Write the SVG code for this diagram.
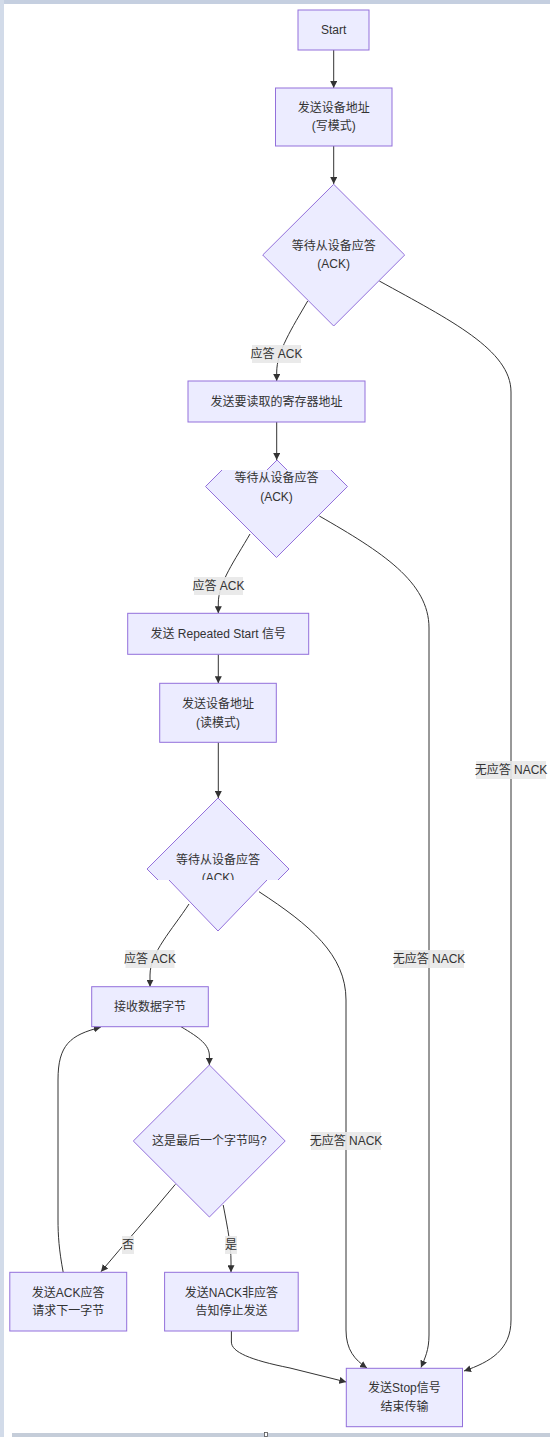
<svg xmlns="http://www.w3.org/2000/svg" width="550" height="1437" viewBox="0 0 550 1437">
<defs>
<style>
.n{fill:#ECECFF;stroke:#9370DB;stroke-width:1}
.nf{fill:#ECECFF;stroke:none}
.ns{fill:none;stroke:#9370DB;stroke-width:1}
.t{font-family:"Liberation Sans","Noto Sans CJK SC",sans-serif;font-size:12px;fill:#333;text-anchor:middle;dominant-baseline:central}
.e{fill:none;stroke:#333;stroke-width:1}
.lb{fill:#e8e8e8;opacity:0.9}
</style>
<marker id="ah" viewBox="0 0 10 10" refX="10" refY="5" markerWidth="7" markerHeight="7" markerUnits="userSpaceOnUse" orient="auto">
<path d="M0,0 L10,5 L0,10 z" fill="#333"/>
</marker>
<clipPath id="c3"><rect x="140" y="840" width="160" height="40"/></clipPath>
</defs>
<rect x="0" y="0" width="550" height="1437" fill="#ffffff"/>
<g id="frame">
<rect x="0" y="0" width="550" height="4" fill="#c5cfe0"/>
<rect x="0" y="0" width="4" height="1437" fill="#d2dbe9"/>
<rect x="12" y="1433" width="538" height="4" fill="#c5cdd9"/>
<rect x="264.5" y="1432.5" width="3" height="4" fill="#fff" stroke="#555" stroke-width="0.8"/>
</g>
<g id="connectors">
<path class="e" d="M333.7,50 L333.7,88" marker-end="url(#ah)"/>
<path class="e" d="M333.7,146 L333.7,184" marker-end="url(#ah)"/>
<path class="e" d="M307.7,301 C292,328 276.7,352 276.7,372 L276.7,381" marker-end="url(#ah)"/>
<path class="e" d="M379.3,281 C450,320 511,350 511,392 L511,1320 C511,1350 490,1362 464,1371" marker-end="url(#ah)"/>
<path class="e" d="M276.7,422 L276.7,460" marker-end="url(#ah)"/>
<path class="e" d="M250,534 C235,560 218.3,583 218.3,603 L218.3,613.3" marker-end="url(#ah)"/>
<path class="e" d="M319.3,516 C382,552 429,582 429,628 L429,1335 C429,1350 425,1358 421,1367.5" marker-end="url(#ah)"/>
<path class="e" d="M218.3,654.3 L218.3,683.3" marker-end="url(#ah)"/>
<path class="e" d="M218.3,742.3 L218.3,798" marker-end="url(#ah)"/>
<path class="e" d="M189,904 C172,930 150,953 150,975 L150,986.7" marker-end="url(#ah)"/>
<path class="e" d="M259,891.7 C310,925 346,955 346,1000 L346,1330 C346,1350 355,1360 367,1368" marker-end="url(#ah)"/>
<path class="e" d="M181,1026.7 C200,1038 209.4,1045 209.4,1056 L209.4,1065" marker-end="url(#ah)"/>
<path class="e" d="M175.4,1184.3 C150,1215 125,1243 101,1271.7" marker-end="url(#ah)"/>
<path class="e" d="M223.2,1205 C228,1230 231,1245 231,1262 L231,1272.3" marker-end="url(#ah)"/>
<path class="e" d="M63.2,1272.3 C59,1250 58,1235 58,1220 L58,1080 C58,1045 70,1035 100.7,1027.3" marker-end="url(#ah)"/>
<path class="e" d="M231.4,1331 L231.4,1342 C231.4,1352 250,1360 290,1368 L346.3,1382" marker-end="url(#ah)"/>
</g>
<g id="edge-labels">
<rect class="lb" x="252" y="345" width="49" height="18"/>
<text class="t" x="276.5" y="354">应答 ACK</text>
<rect class="lb" x="476" y="761" width="70" height="18"/>
<text class="t" x="511" y="770">无应答 NACK</text>
<rect class="lb" x="194" y="577" width="49" height="18"/>
<text class="t" x="218.5" y="586">应答 ACK</text>
<rect class="lb" x="394" y="950" width="70" height="18"/>
<text class="t" x="429" y="959">无应答 NACK</text>
<rect class="lb" x="125.5" y="950" width="49" height="18"/>
<text class="t" x="150" y="959">应答 ACK</text>
<rect class="lb" x="311" y="1132" width="70" height="18"/>
<text class="t" x="346" y="1141">无应答 NACK</text>
<rect class="lb" x="122" y="1236" width="12" height="18"/>
<text class="t" x="128" y="1245">否</text>
<rect class="lb" x="225" y="1236" width="12" height="18"/>
<text class="t" x="231" y="1245">是</text>
</g>
<g id="start">
<rect class="n" x="298" y="10" width="71" height="40"/>
<text class="t" x="333.7" y="30">Start</text>
</g>
<g id="addr-write">
<rect class="n" x="275.5" y="88" width="116.5" height="58"/>
<text class="t" x="333.7" y="107.5">发送设备地址</text>
<text class="t" x="333.7" y="125.5">(写模式)</text>
</g>
<g id="ack1">
<polygon class="n" points="333.7,184.3 404.7,255 333.7,326 262.7,255"/>
<text class="t" x="333.7" y="246">等待从设备应答</text>
<text class="t" x="333.7" y="264">(ACK)</text>
</g>
<g id="reg-addr">
<rect class="n" x="188" y="381" width="177" height="41"/>
<text class="t" x="276.5" y="401.7">发送要读取的寄存器地址</text>
</g>
<g id="ack2">
<polygon class="nf" points="222,470 267,470 277,460 287,470 331,470 347.5,486.5 276.5,557.5 205.5,486.5"/>
<polyline class="ns" points="222,470 205.5,486.5 276.5,557.5 347.5,486.5 331,470"/>
<polyline class="ns" points="267,470 277,460 287,470"/>
<text class="t" x="276.5" y="478.3">等待从设备应答</text>
<text class="t" x="276.5" y="496.5">(ACK)</text>
</g>
<g id="restart">
<rect class="n" x="127.7" y="613.3" width="181" height="41"/>
<text class="t" x="218.2" y="633.5">发送 Repeated Start 信号</text>
</g>
<g id="addr-read">
<rect class="n" x="159.7" y="683.3" width="116.6" height="59"/>
<text class="t" x="218" y="704.3">发送设备地址</text>
<text class="t" x="218" y="722.7">(读模式)</text>
</g>
<g id="ack3">
<polygon class="nf" points="218,798 289,869 278,880 267,880 218,931 169,880 158,880 147,869"/>
<polyline class="ns" points="158,880 147,869 218,798 289,869 278,880"/>
<polyline class="ns" points="267,880 218,931 169,880"/>
<g clip-path="url(#c3)">
<text class="t" x="218" y="860">等待从设备应答</text>
<text class="t" x="218" y="878">(ACK)</text>
</g>
</g>
<g id="recv">
<rect class="n" x="91.7" y="986.7" width="116.6" height="40"/>
<text class="t" x="150" y="1006.7">接收数据字节</text>
</g>
<g id="last-byte">
<polygon class="n" points="209.4,1065 285.2,1141 209.4,1217 133.3,1141"/>
<text class="t" x="209.4" y="1141">这是最后一个字节吗?</text>
</g>
<g id="send-ack">
<rect class="n" x="9.8" y="1272.3" width="116.9" height="58.7"/>
<text class="t" x="68.2" y="1292.7">发送ACK应答</text>
<text class="t" x="68.2" y="1310.7">请求下一字节</text>
</g>
<g id="send-nack">
<rect class="n" x="164.6" y="1272.3" width="133.6" height="58.7"/>
<text class="t" x="231.4" y="1292.7">发送NACK非应答</text>
<text class="t" x="231.4" y="1310.7">告知停止发送</text>
</g>
<g id="stop">
<rect class="n" x="346.3" y="1368.3" width="116.2" height="58.4"/>
<text class="t" x="404.4" y="1388.3">发送Stop信号</text>
<text class="t" x="404.4" y="1406.7">结束传输</text>
</g>
</svg>
